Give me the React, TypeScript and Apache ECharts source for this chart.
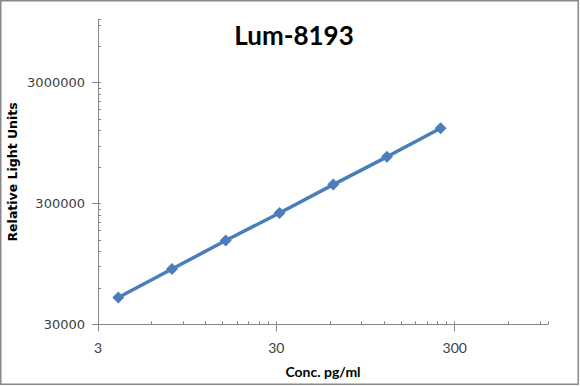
import React, { useEffect, useRef } from "react";
import * as echarts from "echarts";

const chartTitle = "Lum-8193";
const xAxisTitle = "Conc. pg/ml";
const yAxisTitle = "Relative Light Units";

const concentrations = [3.9, 7.8, 15.6, 31.25, 62.5, 125, 250];
const rlu = [50000, 86000, 148000, 250000, 430000, 730000, 1260000];

const xMin = 3;
const xMax = 1000;
const yMin = 30000;
const yMax = 10000000;

const xMajorTicks = [3, 30, 300];
const xMinorTicks = [
  6, 9, 12, 15, 18, 21, 24, 27,
  60, 90, 120, 150, 180, 210, 240, 270,
  600, 900, 1000,
];
const yMajorTicks = [30000, 300000, 3000000];
const yMinorTicks = [
  60000, 90000, 120000, 150000, 180000, 210000, 240000, 270000,
  600000, 900000, 1200000, 1500000, 1800000, 2100000, 2400000, 2700000,
  6000000, 9000000, 10000000,
];

const axisGray = "#868686";

export default function App() {
  const ref = useRef<HTMLDivElement>(null);

  useEffect(() => {
    if (!ref.current) return;
    const chart = echarts.init(ref.current, undefined, { renderer: "svg" });
    const grid = {
      left: 98,
      right: 32,
      top: 19.5,
      bottom: 61.7,
      containLabel: false,
      outerBoundsMode: "none",
    };
    const seriesData = concentrations.map((c, i) => [c, rlu[i]]);

    chart.setOption({
      animation: false,
      backgroundColor: "#ffffff",
      title: {
        text: chartTitle,
        left: 289,
        textAlign: "center",
        top: 17,
        textStyle: {
          fontFamily: "Lato",
          fontWeight: "bold",
          fontSize: 26,
          color: "#000000",
        },
      },
      grid,
      xAxis: [
        {
          type: "log",
          logBase: 10,
          min: xMin,
          max: xMax,
          position: "bottom",
          name: xAxisTitle,
          nameLocation: "middle",
          nameMoveOverlap: false,
          nameGap: 40,
          nameTextStyle: {
            fontFamily: "Lato",
            fontWeight: "bold",
            fontSize: 14,
            color: "#000000",
          },
          axisLine: { show: true, lineStyle: { color: axisGray, width: 1 } },
          axisTick: {
            show: true,
            inside: false,
            length: 7,
            customValues: xMajorTicks,
            lineStyle: { color: axisGray },
          },
          axisLabel: {
            show: true,
            customValues: xMajorTicks,
            margin: 16,
            fontFamily: "Lato",
            fontSize: 14,
            color: "#404040",
            formatter: (v: number) => String(Math.round(v)),
          },
          splitLine: { show: false },
          minorTick: { show: false },
        },
        {
          type: "log",
          logBase: 10,
          min: xMin,
          max: xMax,
          position: "bottom",
          axisLine: { show: false },
          axisTick: {
            show: true,
            inside: true,
            length: 3,
            customValues: [...xMajorTicks, ...xMinorTicks],
            lineStyle: { color: axisGray },
          },
          axisLabel: { show: false },
          splitLine: { show: false },
        },
      ],
      yAxis: [
        {
          type: "log",
          logBase: 10,
          min: yMin,
          max: yMax,
          position: "left",
          name: yAxisTitle,
          nameLocation: "middle",
          nameRotate: 90,
          nameMoveOverlap: false,
          nameGap: 79,
          nameTextStyle: {
            fontFamily: "DejaVu Sans",
            fontWeight: "bold",
            fontSize: 12.5,
            color: "#000000",
          },
          axisLine: { show: true, lineStyle: { color: axisGray, width: 1 } },
          axisTick: {
            show: true,
            inside: false,
            length: 6,
            customValues: yMajorTicks,
            lineStyle: { color: axisGray },
          },
          axisLabel: {
            show: true,
            customValues: yMajorTicks,
            margin: 13,
            fontFamily: "DejaVu Sans",
            fontSize: 13,
            color: "#404040",
            formatter: (v: number) => String(Math.round(v)),
          },
          splitLine: { show: false },
        },
        {
          type: "log",
          logBase: 10,
          min: yMin,
          max: yMax,
          position: "left",
          axisLine: { show: false },
          axisTick: {
            show: true,
            inside: true,
            length: 3,
            customValues: [...yMajorTicks, ...yMinorTicks],
            lineStyle: { color: axisGray },
          },
          axisLabel: { show: false },
          splitLine: { show: false },
        },
      ],
      series: [
        {
          type: "line",
          xAxisIndex: 0,
          yAxisIndex: 0,
          data: seriesData,
          symbol: "diamond",
          symbolSize: 12,
          lineStyle: { color: "#4a7ebb", width: 3.5 },
          itemStyle: { color: "#4a7ebb" },
          showSymbol: true,
        },
      ],
      graphic: [
        {
          type: "rect",
          shape: { x: 0.75, y: 0.75, width: 577.5, height: 383.5 },
          style: { fill: "none", stroke: "#898989", lineWidth: 1.5 },
          silent: true,
          z: 100,
        },
      ],
    });

    return () => chart.dispose();
  }, []);

  return (
    <div
      ref={ref}
      style={{ position: "fixed", left: 0, top: 0, width: 580, height: 386 }}
    />
  );
}
